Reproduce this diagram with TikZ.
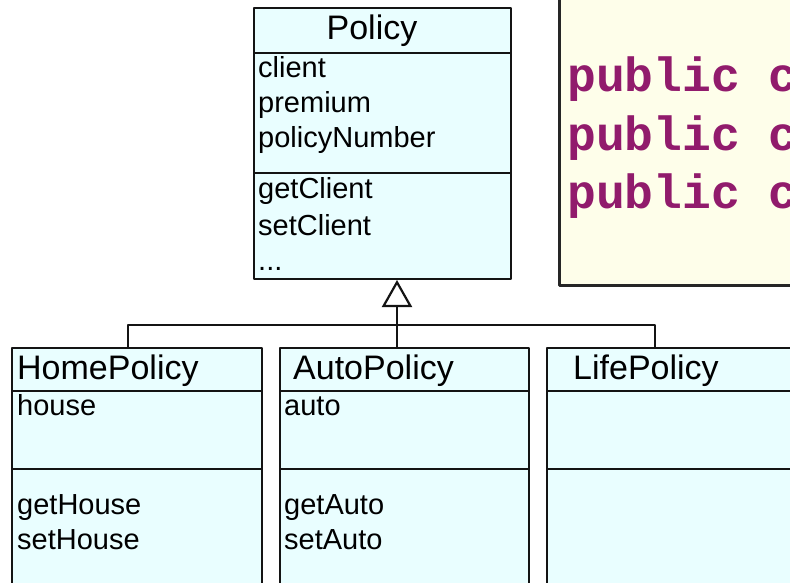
\documentclass[tikz,border=0pt]{standalone}
\usepackage{fontspec}
\setmainfont{Liberation Sans}
\newfontfamily\codefont{Liberation Mono}
\usetikzlibrary{positioning,calc,arrows.meta}

\definecolor{classfill}{HTML}{E9FEFF}
\definecolor{notefill}{HTML}{FEFEEA}
\definecolor{codepurple}{HTML}{911B6C}

\tikzset{
  compartment/.style={draw=black!92, line width=2.8pt, fill=classfill, inner sep=0pt, outer sep=0pt},
  classname/.style={anchor=base west, inner sep=0pt, font=\fontsize{34}{40}\selectfont},
  member/.style={anchor=base west, inner sep=0pt, font=\fontsize{29}{35}\selectfont},
  inherit/.style={line width=2.2pt, draw=black!92},
  codeline/.style={anchor=base west, inner sep=0pt, text=codepurple, font=\codefont\bfseries\fontsize{48}{58}\selectfont}
}

\begin{document}
\begin{tikzpicture}[x=1pt, y=-1pt, line join=round]
  \useasboundingbox (0,0) rectangle (790,583);
  \clip (0,0) rectangle (790,583);

  % Draw the note with the class declarations
  \draw[line width=3pt, draw=black!85, fill=notefill] (559,-10) rectangle (800,285);
  \foreach \i in {1,2,3}
    \node[codeline] (code\i) at (567,{92+58*(\i-1)}) {public c};

  % Draw the Policy base class
  \node[compartment, anchor=north west, minimum width=257pt, minimum height=45pt] (policy-t) at (254,8) {};
  \node[compartment, below=0pt of policy-t, minimum width=257pt, minimum height=120pt] (policy-a) {};
  \node[compartment, below=0pt of policy-a, minimum width=257pt, minimum height=106pt] (policy-o) {};
  \node[classname, anchor=base] (policy-name) at ($(policy-t.north west)+(118,32)$) {Policy};
  \foreach \m [count=\i] in {client,premium,policyNumber}
    \node[member] (policy-a\i) at ($(policy-a.north west)+(4,{25+35*(\i-1)})$) {\m};
  \foreach \m [count=\i] in {getClient,setClient}
    \node[member] (policy-o\i) at ($(policy-o.north west)+(4,{25+37*(\i-1)})$) {\m};
  \node[member] (policy-o3) at ($(policy-o.north west)+(4,97)$) {...};

  % Draw the three subclasses
  \foreach \cls/\x/\w in {home/12/250, auto/280/249, life/547/260} {
    \node[compartment, anchor=north west, minimum width=\w pt, minimum height=43pt] (\cls-t) at (\x,348) {};
    \node[compartment, below=0pt of \cls-t, minimum width=\w pt, minimum height=78pt] (\cls-a) {};
    \node[compartment, below=0pt of \cls-a, minimum width=\w pt, minimum height=160pt] (\cls-o) {};
  }
  \node[classname] (home-name) at ($(home-t.north west)+(5,31)$) {HomePolicy};
  \node[classname] (auto-name) at ($(auto-t.north west)+(13,31)$) {AutoPolicy};
  \node[classname] (life-name) at ($(life-t.north west)+(26,31)$) {LifePolicy};

  % Fields and methods of the subclasses
  \node[member] (home-a1) at ($(home-a.north west)+(5,24)$) {house};
  \node[member] (home-o1) at ($(home-o.north west)+(5,45)$) {getHouse};
  \node[member] (home-o2) at ($(home-o.north west)+(5,80)$) {setHouse};
  \node[member] (auto-a1) at ($(auto-a.north west)+(4,24)$) {auto};
  \node[member] (auto-o1) at ($(auto-o.north west)+(4,45)$) {getAuto};
  \node[member] (auto-o2) at ($(auto-o.north west)+(4,80)$) {setAuto};

  % Generalization connectors
  \coordinate (apex) at (397,280);
  \coordinate (bar) at (397,325);
  \coordinate (home-in) at ($(home-t.north west)+(116,0)$);
  \coordinate (life-in) at ($(life-t.north west)+(108,0)$);
  \draw[inherit, -{Triangle[open, length=27pt, width=30pt, line width=2.2pt]}] (auto-t.north -| apex) -- (apex);
  \draw[inherit] (home-in) |- (bar) -| (life-in);

\end{tikzpicture}
\end{document}
